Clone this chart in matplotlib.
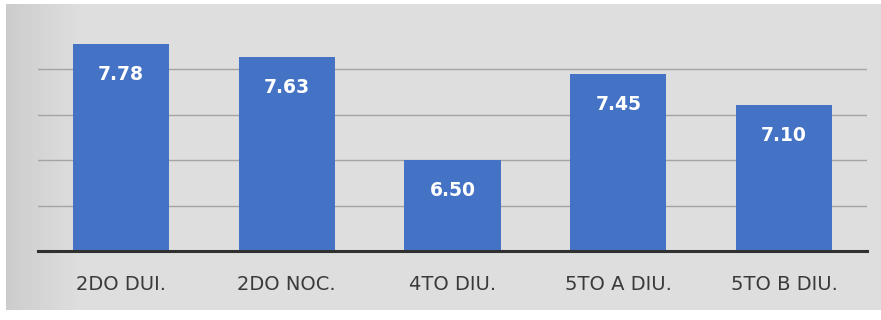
import matplotlib
matplotlib.use("Agg")
import matplotlib.pyplot as plt
import numpy as np
from matplotlib import font_manager

categories = ["2DO DUI.", "2DO NOC.", "4TO DIU.", "5TO A DIU.", "5TO B DIU."]
values = [7.78, 7.63, 6.50, 7.45, 7.10]
labels = ["7.78", "7.63", "6.50", "7.45", "7.10"]

names = {f.name for f in font_manager.fontManager.ttflist}
tick_font = "Liberation Sans Narrow" if "Liberation Sans Narrow" in names else "DejaVu Sans"

W, H = 881, 320
fig = plt.figure(figsize=(W / 100, H / 100), dpi=100)
fig.patch.set_facecolor("white")

# chart background panel with a soft gradient
bg = fig.add_axes([6 / W, (H - 310) / H, (W - 6) / W, 306 / H])
grad = np.linspace(0, 1, 256)
shade = 0.80 + 0.07 * np.clip(grad * 12, 0, 1)
img = np.tile(shade, (2, 1))
bg.imshow(img, cmap="gray", vmin=0, vmax=1, aspect="auto", extent=[0, 1, 0, 1])
bg.set_axis_off()

ax = fig.add_axes([38 / W, (H - 251) / H, (867 - 38) / W, (251 - 23.5) / H])
ax.set_facecolor("none")
x = np.arange(len(categories))
bars = ax.bar(x, values, width=0.58, color="#4472C4", zorder=3)
ax.set_xlim(-0.5, len(categories) - 0.5)
ax.set_ylim(5.5, 8.0)
ax.set_yticks([6.0, 6.5, 7.0, 7.5])
ax.yaxis.grid(True, color="#a4a4a4", linewidth=1.0, zorder=0)
ax.tick_params(axis="y", left=False, labelleft=False)
ax.tick_params(axis="x", bottom=False, pad=14, labelsize=14, labelcolor="#3a3a3a")
ax.set_xticks(x)
ax.set_xticklabels(categories, fontfamily=tick_font)
for s in ["top", "right", "left"]:
    ax.spines[s].set_visible(False)
ax.spines["bottom"].set_color("#303030")
ax.spines["bottom"].set_linewidth(2.2)
ax.spines["bottom"].set_zorder(4)

for b, lab in zip(bars, labels):
    ax.annotate(lab, (b.get_x() + b.get_width() / 2, b.get_height()),
                xytext=(0, -22), textcoords="offset points", ha="center", va="center",
                color="white", fontsize=13.5, fontweight="bold", zorder=5)

fig.savefig("out.png", dpi=100)
